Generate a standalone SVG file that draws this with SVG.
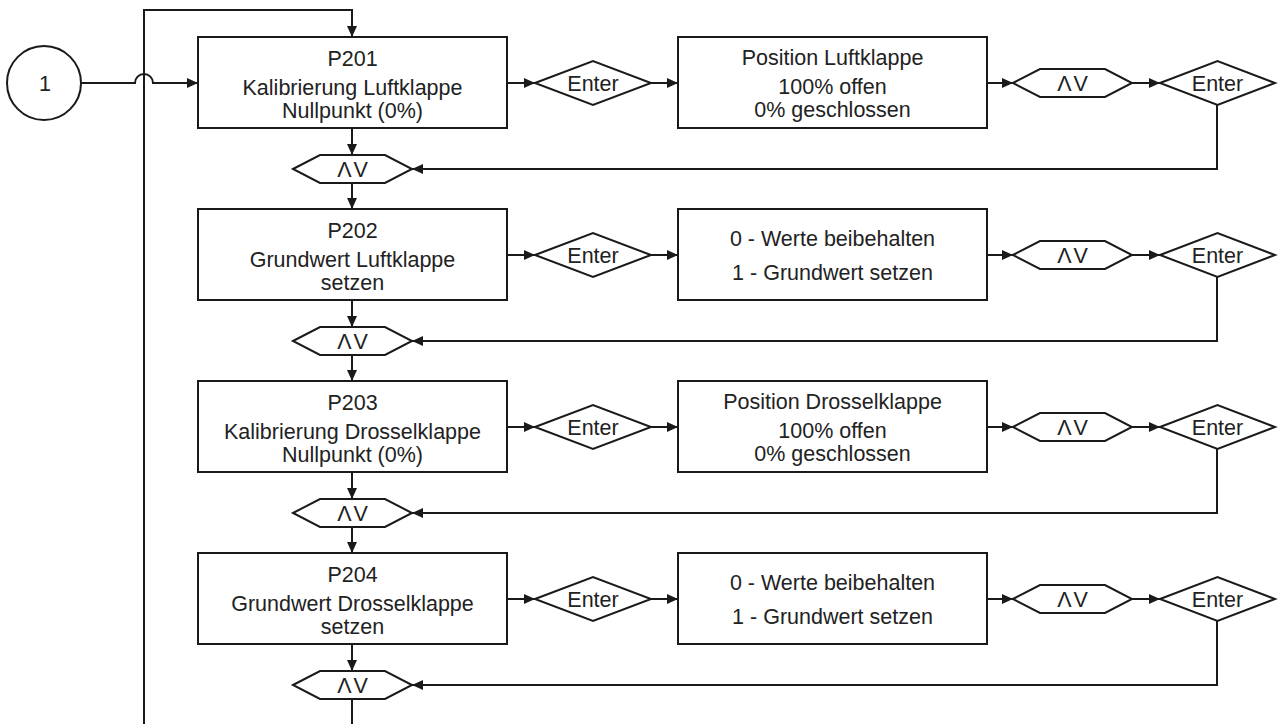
<svg xmlns="http://www.w3.org/2000/svg" width="1279" height="724" viewBox="0 0 1279 724">
<defs>
<marker id="arr" markerUnits="userSpaceOnUse" markerWidth="12" markerHeight="10" refX="11" refY="5" orient="auto">
<path d="M0,0 L11,5 L0,10 z" fill="#1a1a1a"/>
</marker>
<style>
.s{fill:#fff;stroke:#1a1a1a;stroke-width:2}
.c{fill:none;stroke:#1a1a1a;stroke-width:2}
.a{marker-end:url(#arr)}
text{font-family:"Liberation Sans",Arial,sans-serif;font-size:21.5px;fill:#222;text-anchor:middle}
.h{letter-spacing:2px}
</style>
</defs>
<rect width="1279" height="724" fill="#fff"/>

<g id="connectors">
<path class="c" d="M144 724 V10 H352 V37" marker-end="url(#arr)"/>
<path class="c a" d="M81 83 H135 A9 9 0 0 1 153 83 H198"/>

<path class="c a" d="M507 83 H535"/>
<path class="c a" d="M651 83 H678"/>
<path class="c a" d="M987 83 H1013"/>
<path class="c a" d="M1132 83 H1160"/>
<path class="c a" d="M1217 105 V169 H412"/>
<path class="c a" d="M352 128 V155"/>
<path class="c a" d="M352 183 V209"/>

<path class="c a" d="M507 255 H535"/>
<path class="c a" d="M651 255 H678"/>
<path class="c a" d="M987 255 H1013"/>
<path class="c a" d="M1132 255 H1160"/>
<path class="c a" d="M1217 277 V341 H412"/>
<path class="c a" d="M352 300 V327"/>
<path class="c a" d="M352 355 V381"/>

<path class="c a" d="M507 427 H535"/>
<path class="c a" d="M651 427 H678"/>
<path class="c a" d="M987 427 H1013"/>
<path class="c a" d="M1132 427 H1160"/>
<path class="c a" d="M1217 449 V513 H412"/>
<path class="c a" d="M352 472 V499"/>
<path class="c a" d="M352 527 V553"/>

<path class="c a" d="M507 599 H535"/>
<path class="c a" d="M651 599 H678"/>
<path class="c a" d="M987 599 H1013"/>
<path class="c a" d="M1132 599 H1160"/>
<path class="c a" d="M1217 621 V685 H412"/>
<path class="c a" d="M352 644 V671"/>
<path class="c" d="M352 699 V724"/>
</g>

<g id="start">
<circle class="s" cx="44" cy="83" r="37"/>
<text x="45" y="91">1</text>
</g>

<!-- Row 1 -->
<g id="p201">
<rect class="s" x="198" y="37" width="309" height="91"/>
<text x="352.5" y="66">P201</text>
<text x="352.5" y="95">Kalibrierung Luftklappe</text>
<text x="352.5" y="118">Nullpunkt (0%)</text>
</g>
<g id="enter1a">
<polygon class="s" points="535,83 593,61 651,83 593,105"/>
<text x="593" y="91">Enter</text>
</g>
<g id="pos1">
<rect class="s" x="678" y="37" width="309" height="91"/>
<text x="832.5" y="65">Position Luftklappe</text>
<text x="832.5" y="94">100% offen</text>
<text x="832.5" y="117">0% geschlossen</text>
</g>
<g id="updown1">
<polygon class="s" points="1013,83 1040,69 1105,69 1132,83 1105,97 1040,97"/>
<text class="h" x="1073.5" y="91">ΛV</text>
</g>
<g id="enter1b">
<polygon class="s" points="1160,83 1217.5,61 1275,83 1217.5,105"/>
<text x="1217.5" y="91">Enter</text>
</g>
<g id="sel1">
<polygon class="s" points="293,169 320,155 385,155 412,169 385,183 320,183"/>
<text class="h" x="353.5" y="177">ΛV</text>
</g>

<!-- Row 2 -->
<g id="p202">
<rect class="s" x="198" y="209" width="309" height="91"/>
<text x="352.5" y="238">P202</text>
<text x="352.5" y="267">Grundwert Luftklappe</text>
<text x="352.5" y="290">setzen</text>
</g>
<g id="enter2a">
<polygon class="s" points="535,255 593,233 651,255 593,277"/>
<text x="593" y="263">Enter</text>
</g>
<g id="opt2">
<rect class="s" x="678" y="209" width="309" height="91"/>
<text x="832.5" y="246">0 - Werte beibehalten</text>
<text x="832.5" y="280">1 - Grundwert setzen</text>
</g>
<g id="updown2">
<polygon class="s" points="1013,255 1040,241 1105,241 1132,255 1105,269 1040,269"/>
<text class="h" x="1073.5" y="263">ΛV</text>
</g>
<g id="enter2b">
<polygon class="s" points="1160,255 1217.5,233 1275,255 1217.5,277"/>
<text x="1217.5" y="263">Enter</text>
</g>
<g id="sel2">
<polygon class="s" points="293,341 320,327 385,327 412,341 385,355 320,355"/>
<text class="h" x="353.5" y="349">ΛV</text>
</g>

<!-- Row 3 -->
<g id="p203">
<rect class="s" x="198" y="381" width="309" height="91"/>
<text x="352.5" y="410">P203</text>
<text x="352.5" y="439">Kalibrierung Drosselklappe</text>
<text x="352.5" y="462">Nullpunkt (0%)</text>
</g>
<g id="enter3a">
<polygon class="s" points="535,427 593,405 651,427 593,449"/>
<text x="593" y="435">Enter</text>
</g>
<g id="pos3">
<rect class="s" x="678" y="381" width="309" height="91"/>
<text x="832.5" y="409">Position Drosselklappe</text>
<text x="832.5" y="438">100% offen</text>
<text x="832.5" y="461">0% geschlossen</text>
</g>
<g id="updown3">
<polygon class="s" points="1013,427 1040,413 1105,413 1132,427 1105,441 1040,441"/>
<text class="h" x="1073.5" y="435">ΛV</text>
</g>
<g id="enter3b">
<polygon class="s" points="1160,427 1217.5,405 1275,427 1217.5,449"/>
<text x="1217.5" y="435">Enter</text>
</g>
<g id="sel3">
<polygon class="s" points="293,513 320,499 385,499 412,513 385,527 320,527"/>
<text class="h" x="353.5" y="521">ΛV</text>
</g>

<!-- Row 4 -->
<g id="p204">
<rect class="s" x="198" y="553" width="309" height="91"/>
<text x="352.5" y="582">P204</text>
<text x="352.5" y="611">Grundwert Drosselklappe</text>
<text x="352.5" y="634">setzen</text>
</g>
<g id="enter4a">
<polygon class="s" points="535,599 593,577 651,599 593,621"/>
<text x="593" y="607">Enter</text>
</g>
<g id="opt4">
<rect class="s" x="678" y="553" width="309" height="91"/>
<text x="832.5" y="590">0 - Werte beibehalten</text>
<text x="832.5" y="624">1 - Grundwert setzen</text>
</g>
<g id="updown4">
<polygon class="s" points="1013,599 1040,585 1105,585 1132,599 1105,613 1040,613"/>
<text class="h" x="1073.5" y="607">ΛV</text>
</g>
<g id="enter4b">
<polygon class="s" points="1160,599 1217.5,577 1275,599 1217.5,621"/>
<text x="1217.5" y="607">Enter</text>
</g>
<g id="sel4">
<polygon class="s" points="293,685 320,671 385,671 412,685 385,699 320,699"/>
<text class="h" x="353.5" y="693">ΛV</text>
</g>
</svg>
